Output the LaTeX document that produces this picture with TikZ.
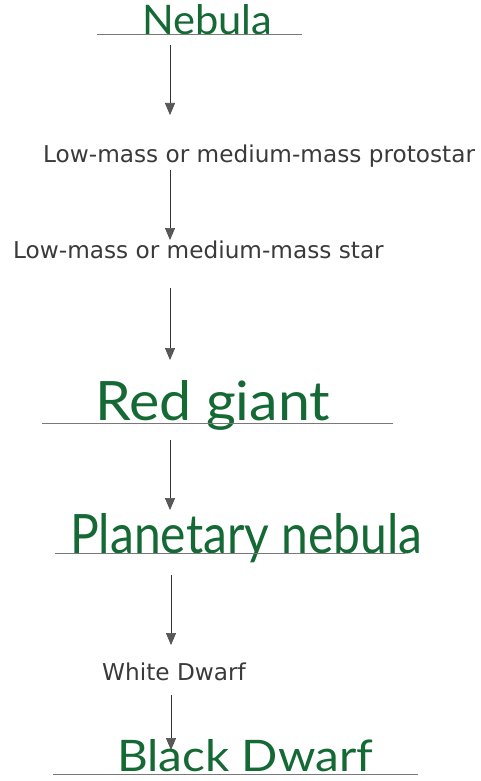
\documentclass[tikz,border=0pt]{standalone}
\usepackage{fontspec}
\setmainfont{DejaVu Sans}
\newfontfamily\hand{Lato}
\usetikzlibrary{arrows.meta}
\definecolor{ink}{RGB}{20,105,52}
\definecolor{txt}{RGB}{58,58,58}
\definecolor{rule}{RGB}{120,120,120}
\begin{document}
\begin{tikzpicture}[x=1pt,y=-1pt,
  flow/.style={draw=black!80, line width=0.9pt,
    -{Triangle[width=10pt,length=12pt,fill=gray!70!black,color=black!70,line width=0.6pt]}},
  baseline rule/.style={draw=rule, line width=0.9pt},
  hw/.style={text=ink, anchor=base west, inner sep=0pt},
  pr/.style={text=txt, anchor=base west, inner sep=0pt, font=\fontsize{23.2}{23.2}\selectfont}]
\useasboundingbox (0,0) rectangle (480,781);
% handwritten stages with their rules
\node[hw] (nebula) at (142,35) {\resizebox{130pt}{30pt}{\hand Nebula}};
\draw[baseline rule] (97,34) -- (302,34);
\node[pr] (proto) at (43,162) {Low-mass or medium-mass protostar};
\node[pr] (star) at (13,258) {Low-mass or medium-mass star};
\node[hw] (red) at (95,420) {\resizebox{235pt}{40pt}{\hand Red giant}};
\draw[baseline rule] (42,423) -- (393,423);
\node[hw] (plan) at (70,553) {\resizebox{352pt}{40pt}{\hand Planetary nebula}};
\draw[baseline rule] (55,553) -- (405,553);
\node[pr] (white) at (102,680) {White Dwarf};
\node[hw] (black) at (117,771) {\resizebox{256pt}{32pt}{\hand Black Dwarf}};
\draw[baseline rule] (53,774) -- (418,774);
% arrow ends
\coordinate (a1s) at (170,45);  \coordinate (a1e) at (170,115);
\coordinate (a2s) at (170,170); \coordinate (a2e) at (170,240);
\coordinate (a3s) at (170,288); \coordinate (a3e) at (170,360);
\coordinate (a4s) at (170,440); \coordinate (a4e) at (170,510);
\coordinate (a5s) at (171,575); \coordinate (a5e) at (171,645);
\coordinate (a6s) at (171,695); \coordinate (a6e) at (171,750);
\draw[flow] (a1s) -- (a1e);
\draw[flow] (a2s) -- (a2e);
\draw[flow] (a3s) -- (a3e);
\draw[flow] (a4s) -- (a4e);
\draw[flow] (a5s) -- (a5e);
\draw[flow] (a6s) -- (a6e);
\end{tikzpicture}
\end{document}
